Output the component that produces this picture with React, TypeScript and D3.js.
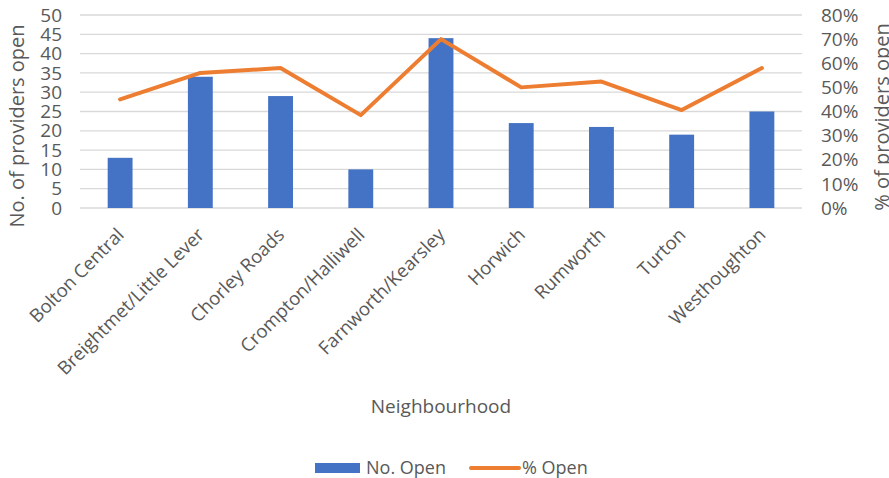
import * as d3 from 'd3'

// Neighbourhood categories and readings
const neighbourhoods = [
  'Bolton Central',
  'Breightmet/Little Lever',
  'Chorley Roads',
  'Crompton/Halliwell',
  'Farnworth/Kearsley',
  'Horwich',
  'Rumworth',
  'Turton',
  'Westhoughton',
]
const noOpen = [13, 34, 29, 10, 44, 22, 21, 19, 25]
const pctOpen = [0.45, 0.56, 0.58, 0.385, 0.70, 0.50, 0.524, 0.406, 0.58]

const leftTicks = [0, 5, 10, 15, 20, 25, 30, 35, 40, 45, 50]
const rightTicks = [0, 0.1, 0.2, 0.3, 0.4, 0.5, 0.6, 0.7, 0.8]

const W = 889
const H = 478
const plot = { left: 80, right: 802, top: 15, bottom: 208 }
const font = '"Open Sans", "Noto Sans", sans-serif'
const textColor = '#595959'

export default function App() {
  const x = d3
    .scaleBand<string>()
    .domain(neighbourhoods)
    .range([plot.left, plot.right])
    .paddingInner(0.69)
    .paddingOuter(0.345)
  const yLeft = d3.scaleLinear().domain([0, 50]).range([plot.bottom, plot.top])
  const yRight = d3.scaleLinear().domain([0, 0.8]).range([plot.bottom, plot.top])
  const center = (d: string) => (x(d) ?? 0) + x.bandwidth() / 2

  const line = d3
    .line<number>()
    .x((_, i) => center(neighbourhoods[i]))
    .y(d => yRight(d))

  return (
    <div style={{ position: 'absolute', left: 0, top: 0 }}>
      <svg width={W} height={H} style={{ display: 'block', fontFamily: font }}>
        <rect width={W} height={H} fill="#fff" />

        {/* gridlines */}
        {leftTicks.map(t => (
          <line
            key={t}
            x1={plot.left}
            x2={plot.right}
            y1={yLeft(t)}
            y2={yLeft(t)}
            stroke="#d9d9d9"
            strokeWidth={t === 0 ? 1.5 : 1.3}
          />
        ))}

        {/* bars */}
        {noOpen.map((v, i) => (
          <rect
            key={neighbourhoods[i]}
            x={x(neighbourhoods[i])}
            y={yLeft(v)}
            width={x.bandwidth()}
            height={yLeft(0) - yLeft(v)}
            fill="#4472c4"
          />
        ))}

        {/* % line */}
        <path
          d={line(pctOpen) ?? ''}
          fill="none"
          stroke="#ed7d31"
          strokeWidth={4}
          strokeLinejoin="round"
          strokeLinecap="round"
        />

        {/* left ticks */}
        {leftTicks.map(t => (
          <text
            key={t}
            x={62}
            y={yLeft(t)}
            dy="0.35em"
            textAnchor="end"
            fontSize={19}
            fill={textColor}
          >
            {t}
          </text>
        ))}

        {/* right ticks */}
        {rightTicks.map(t => (
          <text
            key={t}
            x={821}
            y={yRight(t)}
            dy="0.35em"
            textAnchor="start"
            fontSize={19}
            fill={textColor}
          >
            {d3.format('.0%')(t)}
          </text>
        ))}

        {/* category labels */}
        {neighbourhoods.map(n => (
          <text
            key={n}
            transform={`translate(${center(n) + 5},${236}) rotate(-45)`}
            textAnchor="end"
            fontSize={18.5}
            fill={textColor}
          >
            {n}
          </text>
        ))}

        {/* axis titles */}
        <text
          transform={`translate(24,${126}) rotate(-90)`}
          textAnchor="middle"
          fontSize={20}
          fill={textColor}
        >
          No. of providers open
        </text>
        <text
          transform={`translate(889,${117}) rotate(-90)`}
          textAnchor="middle"
          fontSize={20}
          fill={textColor}
        >
          % of providers open
        </text>
        <text x={441} y={413} textAnchor="middle" fontSize={19} fill={textColor}>
          Neighbourhood
        </text>

        {/* legend */}
        <rect x={315} y={463} width={45} height={10} fill="#4472c4" />
        <text x={366} y={474} fontSize={18} fill={textColor}>
          No. Open
        </text>
        <line
          x1={471}
          x2={519}
          y1={468}
          y2={468}
          stroke="#ed7d31"
          strokeWidth={4}
          strokeLinecap="round"
        />
        <text x={522} y={474} fontSize={18} fill={textColor}>
          % Open
        </text>
      </svg>
    </div>
  )
}
